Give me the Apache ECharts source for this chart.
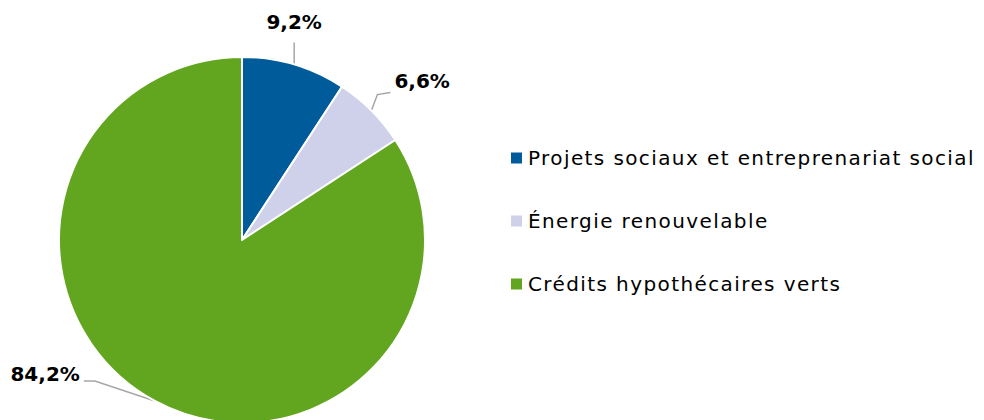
<!DOCTYPE html>
<html><head><meta charset="utf-8">
<script src="https://cdn.jsdelivr.net/npm/echarts@6/dist/echarts.min.js"></script>
<style>html,body{margin:0;padding:0;background:#fff}#c{width:984px;height:420px}</style>
</head><body><div id="c"></div>
<script>
const categories = ['Projets sociaux et entreprenariat social', 'Énergie renouvelable', 'Crédits hypothécaires verts'];
const values = [9.2, 6.6, 84.2];
const colors = ['#005b9a', '#cfd0ea', '#62a61f'];
const FONT = "'DejaVu Sans', Verdana, sans-serif";

const chart = echarts.init(document.getElementById('c'), null, { renderer: 'svg' });
chart.setOption({
  animation: false,
  color: colors,
  legend: {
    orient: 'vertical', left: 504, top: 143,
    itemWidth: 13, itemHeight: 13, itemGap: 43,
    icon: 'rect',
    textStyle: { fontFamily: FONT, fontSize: 20, color: '#000', lineHeight: 20 },
    data: categories
  },
  series: [{
    type: 'pie',
    center: [242, 240], radius: [0, 183],
    startAngle: 90, clockwise: true,
    itemStyle: { borderColor: '#fff', borderWidth: 2 },
    label: {
      show: true, position: 'outside',
      fontFamily: FONT, fontWeight: 'bold', fontSize: 20, color: '#000',
      formatter: p => p.value.toFixed(1).replace('.', ',') + '%'
    },
    labelLine: { show: true, length: 10, length2: 10, lineStyle: { color: '#a6a6a6', width: 1.5 } },
    labelLayout: function (params) {
      const pts = params.labelLinePoints;
      if (!pts) return {};
      const e = pts[0];
      if (params.dataIndex === 0) {
        return { x: e[0], y: e[1] - 33, align: 'center', verticalAlign: 'bottom',
          labelLinePoints: [e, [e[0], e[1] - 22], [e[0], e[1] - 22]] };
      } else if (params.dataIndex === 1) {
        return { x: e[0] + 23, y: e[1] - 30, align: 'left', verticalAlign: 'middle',
          labelLinePoints: [e, [e[0] + 6, e[1] - 16], [e[0] + 19, e[1] - 18]] };
      } else {
        return { x: e[0] - 75, y: e[1] - 27, align: 'right', verticalAlign: 'middle',
          labelLinePoints: [e, [e[0] - 60, e[1] - 20], [e[0] - 71, e[1] - 20]] };
      }
    },
    data: categories.map((n, i) => ({ name: n, value: values[i] }))
  }]
});
// widen legend text tracking to match the reference typeface
document.querySelectorAll('#c svg text').forEach(t => {
  if (categories.includes(t.textContent)) t.style.letterSpacing = '1.4px';
});
</script></body></html>
